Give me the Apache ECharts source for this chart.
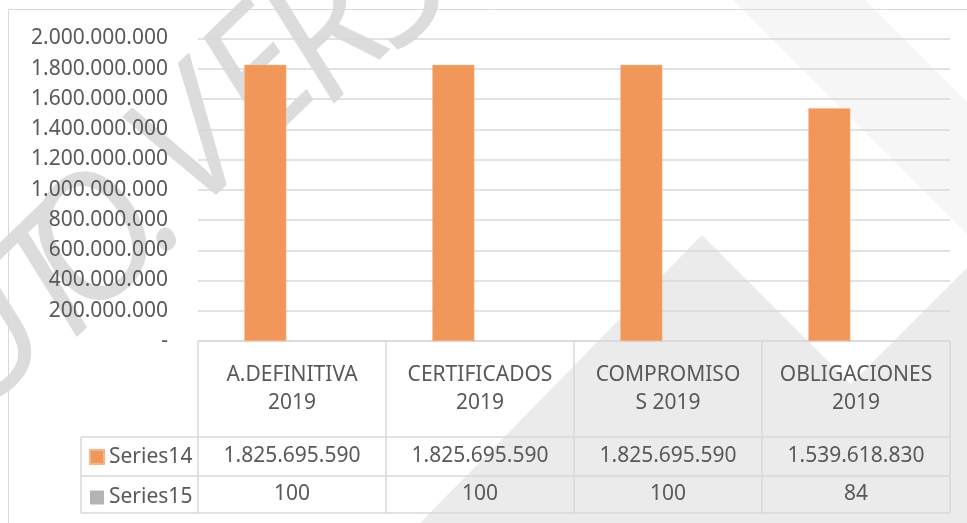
<!DOCTYPE html>
<html>
<head>
<meta charset="utf-8">
<script src="https://cdn.jsdelivr.net/npm/echarts@6/dist/echarts.min.js"></script>
<style>
  html, body { margin: 0; padding: 0; background: #ffffff; }
  #chart { width: 967px; height: 523px; }
</style>
</head>
<body>
<div id="chart"></div>
<script>
// ---- data ----
var categories = ['A.DEFINITIVA 2019', 'CERTIFICADOS 2019', 'COMPROMISOS 2019', 'OBLIGACIONES 2019'];
var categoryLabels = ['A.DEFINITIVA\n2019', 'CERTIFICADOS\n2019', 'COMPROMISO\nS 2019', 'OBLIGACIONES\n2019'];
var seriesNames = ['Series14', 'Series15'];
var series14 = [1825695590, 1825695590, 1825695590, 1539618830];
var series15 = [100, 100, 100, 84];
var yTicks = { min: 0, max: 2000000000, interval: 200000000 };

function fmt(n) {
  if (n === 0) return '-';
  return String(n).replace(/\B(?=(\d{3})+(?!\d))/g, '.');
}

var FONT = 'Noto Sans';
var TXT = '#595959';
var LINE = '#d9d9d9';

// ---- decorative watermark (background) ----
var wmAngle = 44 * Math.PI / 180;
var wmLetters = [
  { t: 'U', x: -15, y: 345 },
  { t: 'T', x: 55, y: 291 },
  { t: 'O', x: 98, y: 247 },
  { t: '.', x: 144, y: 205 },
  { t: 'V', x: 195, y: 148 },
  { t: 'E', x: 262, y: 82 },
  { t: 'R', x: 330, y: 40 },
  { t: 'S', x: 395, y: -10 },
  { t: 'I', x: 440, y: -50 }
];
var graphics = [];
graphics.push({ type: 'polygon', z: -30, silent: true,
  shape: { points: [[733, 0], [865, 0], [967, 102], [967, 234]] },
  style: { fill: '#f6f6f6' } });
graphics.push({ type: 'polygon', z: -30, silent: true,
  shape: { points: [[702, 235], [420, 523], [990, 523]] },
  style: { fill: '#ebebeb' } });
graphics.push({ type: 'polygon', z: -30, silent: true,
  shape: { points: [[967, 268], [712, 523], [967, 523]] },
  style: { fill: '#ebebeb' } });
wmLetters.forEach(function (l) {
  graphics.push({ type: 'text', z: -20, silent: true, x: l.x, y: l.y, rotation: wmAngle,
    style: { text: l.t, fill: '#dcdcdc', font: 'italic 170px "Open Sans"', align: 'center', verticalAlign: 'middle' } });
});
// chart border
graphics.push({ type: 'rect', z: -5, silent: true,
  shape: { x: 8.5, y: 9.5, width: 1200, height: 800 },
  style: { fill: 'none', stroke: LINE, lineWidth: 1 } });
// data table lines
[437, 476, 513].forEach(function (y) {
  graphics.push({ type: 'line', z: 50, silent: true, shape: { x1: 81, y1: y, x2: 950, y2: y },
    style: { stroke: LINE, lineWidth: 1.5 } });
});
graphics.push({ type: 'line', z: 50, silent: true, shape: { x1: 81, y1: 437, x2: 81, y2: 513 },
  style: { stroke: LINE, lineWidth: 1.5 } });

var chart = echarts.init(document.getElementById('chart'), null, { renderer: 'canvas' });
var labelStyle = { fontFamily: FONT, fontSize: 21, color: TXT };

chart.setOption({
  animation: false,
  backgroundColor: 'transparent',
  graphic: graphics,
  grid: { left: 198, right: 17, top: 38.5, bottom: 182, containLabel: false },
  legend: {
    orient: 'vertical', left: 84, top: 440,
    itemWidth: 14, itemHeight: 14, itemGap: 16.5, icon: 'rect',
    textStyle: { fontFamily: FONT, fontSize: 21, color: TXT, lineHeight: 24 },
    data: seriesNames
  },
  xAxis: [
    {
      type: 'category', data: categories, position: 'bottom',
      axisLine: { show: true, lineStyle: { color: LINE, width: 1.5 } },
      axisTick: { show: true, length: 172, interval: 0, lineStyle: { color: LINE, width: 1.5 } },
      axisLabel: Object.assign({ interval: 0, margin: 48, verticalAlign: 'middle', lineHeight: 28, align: 'center',
        formatter: function (v, i) { return categoryLabels[i]; } }, labelStyle)
    },
    {
      type: 'category', data: series14.map(fmt), position: 'bottom',
      axisLine: { show: false }, axisTick: { show: false },
      axisLabel: Object.assign({ interval: 0, margin: 115, verticalAlign: 'middle' }, labelStyle)
    },
    {
      type: 'category', data: series15.map(fmt), position: 'bottom',
      axisLine: { show: false }, axisTick: { show: false },
      axisLabel: Object.assign({ interval: 0, margin: 153, verticalAlign: 'middle' }, labelStyle)
    }
  ],
  yAxis: {
    type: 'value', min: yTicks.min, max: yTicks.max, interval: yTicks.interval,
    axisLine: { show: false }, axisTick: { show: false },
    splitLine: { show: true, lineStyle: { color: LINE, width: 1.5 } },
    axisLabel: Object.assign({ margin: 30, formatter: fmt }, labelStyle)
  },
  series: [
    { name: seriesNames[0], type: 'bar', xAxisIndex: 0, data: series14, barWidth: 42, barGap: '27%',
      itemStyle: { color: '#F1975A', borderColor: '#F6B48A', borderWidth: 0.5 } },
    { name: seriesNames[1], type: 'bar', xAxisIndex: 0, data: series15, barWidth: 42, barGap: '27%',
      itemStyle: { color: '#B4B4B4' } }
  ]
});
</script>
</body>
</html>
